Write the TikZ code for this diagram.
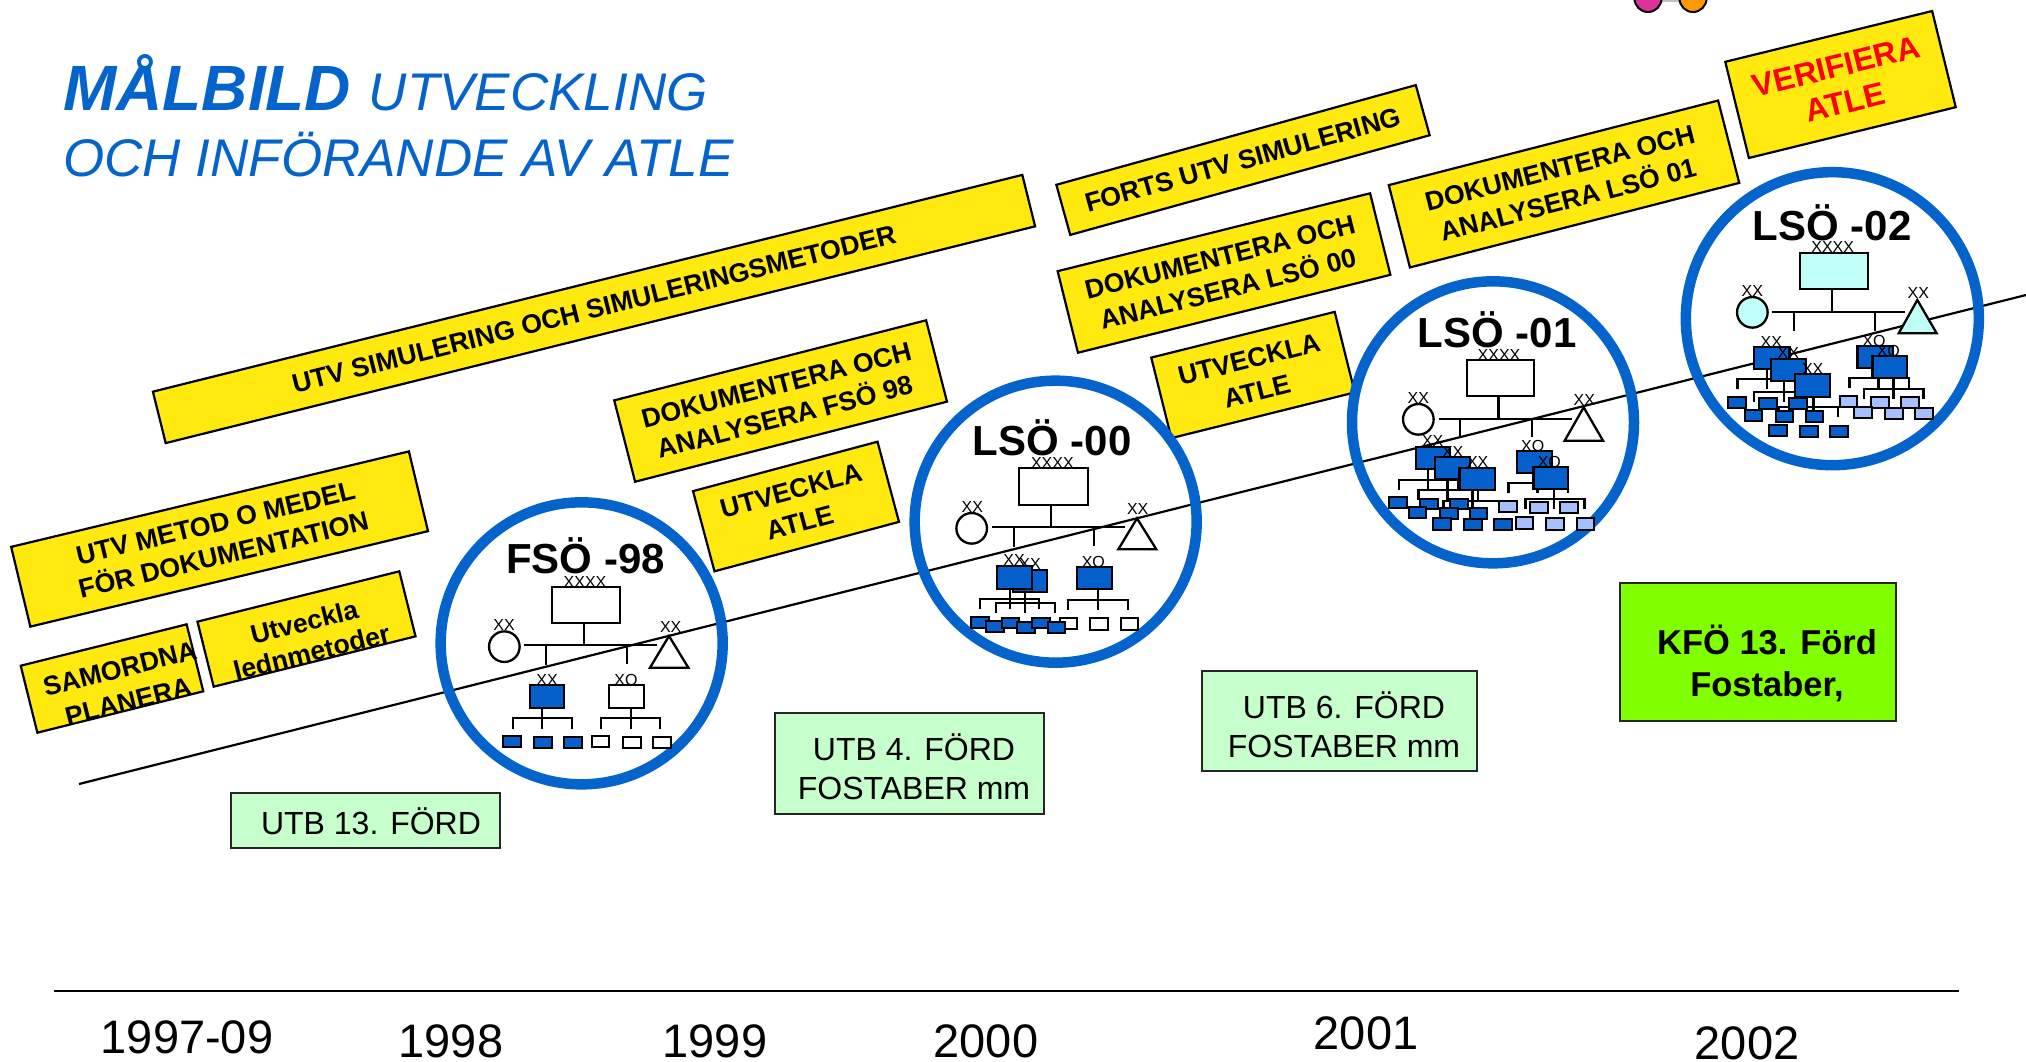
\documentclass[tikz,border=0pt]{standalone}
\usepackage{fontspec}
\setmainfont{Liberation Sans}
\definecolor{ringblue}{HTML}{0563CC}
\definecolor{unitblue}{HTML}{0560CC}
\definecolor{lightblue}{HTML}{A5BFFF}
\definecolor{ybg}{HTML}{FFE90F}
\definecolor{gbg}{HTML}{C6FFCC}
\definecolor{kbg}{HTML}{7FFF00}
\definecolor{cyanbg}{HTML}{BFFFF8}
\definecolor{pinkdot}{HTML}{DD3399}
\definecolor{orangedot}{HTML}{FF9900}
\tikzset{
  ybox/.style={draw=black,line width=2.2pt,fill=ybg,inner sep=0pt,align=center,
    font=\fontsize{26.7}{33}\selectfont\bfseries},
  ytxt/.style={inner sep=0pt,align=center,font=\fontsize{26.7}{33}\selectfont\bfseries},
  gbox/.style={draw=black!85,line width=2pt,fill=gbg,inner sep=0pt,align=center},
  gtxt/.style={inner sep=0pt,align=center,font=\fontsize{32}{38.5}\selectfont},
  year/.style={font=\fontsize{47}{50}\selectfont,inner sep=0pt},
  ring/.style={draw=ringblue,line width=10.5pt},
  ttl/.style={font=\fontsize{42}{44}\selectfont\bfseries,inner sep=0pt},
  xxlab/.style={font=\fontsize{16}{17}\selectfont,inner sep=0pt},
  uline/.style={draw=black,line width=2.3pt},
  ubase/.style={draw=black,line width=2.3pt},
  usmall/.style={draw=black,line width=2.1pt},
  zoomed/.style={x=0.33333pt,y=-0.33333pt}
}
\newcommand{\ubx}[5]{\draw[ubase,fill=#5] (#1,#2) rectangle (#3,#4);}
\newcommand{\sbx}[5]{\draw[usmall,fill=#5] (#1,#2) rectangle (#3,#4);}
\newcommand{\utree}[6]{\draw[uline] (#1,#2)--(#1,#6) (#3,#6)--(#3,#5)--(#4,#5)--(#4,#6);}
\newcommand{\ulab}[4]{\node[xxlab] (#1) at (#2,#3) {#4};}
\begin{document}
\begin{tikzpicture}[x=1pt,y=-1pt]
\useasboundingbox (0,0) rectangle (2026,1061);
% top remnant
\fill[black!25] (1660,-2) rectangle (1682,1.5);
\draw[black,line width=2pt,fill=pinkdot] (1648,-1.5) circle (13.5);
\draw[black,line width=2pt,fill=orangedot] (1693,-1.5) circle (13.5);
% heading
\node[anchor=base west,inner sep=0pt,text=ringblue,font=\fontsize{53}{53}\selectfont\itshape] (title1) at (63,110)
  {{\fontsize{64}{64}\selectfont\bfseries MÅLBILD}\hspace{3pt} UTVECKLING};
\node[anchor=base west,inner sep=0pt,text=ringblue,font=\fontsize{53}{53}\selectfont\itshape] (title2) at (63,176)
  {OCH INFÖRANDE AV ATLE};
% rising line
\coordinate (riseA) at (79,784);
\coordinate (riseB) at (2026,295);
\draw[black,line width=2.2pt] (riseA)--(riseB);
% yellow boxes
\node[ybox,rotate=14,minimum width=896,minimum height=53] (b1) at (594,309) {UTV SIMULERING OCH SIMULERINGSMETODER};
\node[ybox,rotate=13.5,minimum width=409,minimum height=82] (b2) at (219.6,539) {UTV METOD O MEDEL\\FÖR DOKUMENTATION};
\node[ybox,rotate=14,minimum width=208,minimum height=67] (b3) at (306.5,629) {};
\begin{scope}
  \clip (150,703) -- (480,621) -- (480,560) -- (150,560) -- cycle;
  \node[ytxt,rotate=14,font=\fontsize{26.7}{31}\selectfont\bfseries] (b3t) at (308,637) {Utveckla\\lednmetoder};
\end{scope}
\node[ybox,rotate=14,minimum width=171,minimum height=69] (b4) at (112,678.5) {};
\begin{scope}
  \clip (0,742) -- (260,678) -- (260,580) -- (0,580) -- cycle;
  \node[ytxt,rotate=14,font=\fontsize{26.7}{34}\selectfont\bfseries] (b4t) at (124,685) {SAMORDNA\\PLANERA};
\end{scope}
\node[ybox,rotate=14.4,minimum width=322,minimum height=84] (b5) at (780.6,401) {DOKUMENTERA OCH\\ANALYSERA FSÖ 98};
\node[ybox,rotate=15,minimum width=191,minimum height=83] (b6) at (796,506.5) {UTVECKLA\\ATLE};
\node[ybox,rotate=15.5,minimum width=373,minimum height=52] (b7) at (1243,160) {FORTS UTV SIMULERING};
\node[ybox,rotate=14,minimum width=322,minimum height=84] (b8) at (1224,273) {DOKUMENTERA OCH\\ANALYSERA LSÖ 00};
\node[ybox,rotate=14,minimum width=189,minimum height=83] (b9) at (1253,375) {UTVECKLA\\ATLE};
\node[ybox,rotate=14.4,minimum width=340,minimum height=85] (b10) at (1564,184) {DOKUMENTERA OCH\\ANALYSERA LSÖ 01};
\node[ybox,rotate=13.8,minimum width=213,minimum height=99,text=red,font=\fontsize{32}{37}\selectfont\bfseries] (b11) at (1840.5,84.5) {VERIFIERA\\ATLE};
% green boxes
\node[gbox,minimum width=269,minimum height=55] (g1) at (365.5,820.5) {};
\node[gtxt] (g1t) at (371,821) {UTB 13. FÖRD};
\node[gbox,minimum width=269,minimum height=101] (g2) at (909.5,763.5) {};
\node[gtxt] (g2t) at (914,767) {UTB 4. FÖRD\\FOSTABER mm};
\node[gbox,minimum width=275,minimum height=100] (g3) at (1339.5,721) {};
\node[gtxt] (g3t) at (1344,725) {UTB 6. FÖRD\\FOSTABER mm};
\node[gbox,fill=kbg,minimum width=276,minimum height=138] (g4) at (1758,652) {};
\node[gtxt,font=\fontsize{34.5}{42}\selectfont\bfseries] (g4t) at (1767,663) {KFÖ 13. Förd\\Fostaber,};
% axis
\coordinate (axA) at (54,991);
\coordinate (axB) at (1959,991);
\draw[black,line width=2pt] (axA)--(axB);
\node[year] (y1) at (187,1037) {1997-09};
\node[year] (y2) at (451,1041) {1998};
\node[year] (y3) at (715,1041) {1999};
\node[year] (y4) at (986,1041) {2000};
\node[year] (y5) at (1366,1033) {2001};
\node[year] (y6) at (1747,1043) {2002};
% FSÖ -98
\begin{scope}[shift={(420,480)},zoomed]
  \node[ring,circle,inner sep=0pt,minimum size=282pt] (r1) at (485,490) {};
  \node[ttl] (t1) at (497,227) {FSÖ -98};
  \draw[uline] (492,428)--(492,496) (312,496)--(712,496) (377,496)--(377,555) (620,496)--(620,552);
  \ulab{a1}{495}{305}{XXXX}
  \ubx{397}{320}{600}{428}{white}
  \draw[ubase,fill=white] (253,500) circle (15.3pt);
  \ulab{a2}{252}{435}{XX}
  \draw[ubase,fill=white,line join=miter] (747,468)--(805,563)--(690,563)--cycle;
  \ulab{a3}{752}{440}{XX}
  \utree{367}{685}{278}{456}{714}{748}
  \utree{632}{685}{544}{720}{714}{748}
  \ubx{330}{616}{432}{685}{unitblue}
  \ubx{568}{616}{672}{685}{white}
  \ulab{a4}{381}{600}{XX}
  \ulab{a5}{618}{600}{XO}
  \sbx{250}{768}{302}{802}{unitblue}\sbx{342}{770}{396}{805}{unitblue}\sbx{432}{770}{487}{805}{unitblue}
  \sbx{515}{767}{568}{802}{white}\sbx{608}{770}{662}{805}{white}\sbx{698}{770}{752}{805}{white}
\end{scope}
% LSÖ -00
\begin{scope}[shift={(900,370)},zoomed]
  \node[ring,circle,inner sep=0pt,minimum size=282pt] (r2) at (467,455) {};
  \node[ttl] (t2) at (457,202) {LSÖ -00};
  \draw[uline] (453,404)--(453,472) (275,472)--(675,472) (341,472)--(341,530) (583,472)--(583,527);
  \ulab{c1}{457}{280}{XXXX}
  \ubx{358}{295}{563}{404}{white}
  \draw[ubase,fill=white] (215,475) circle (15.3pt);
  \ulab{c2}{217}{410}{XX}
  \draw[ubase,fill=white] (711,445)--(769,538)--(655,538)--cycle;
  \ulab{c3}{713}{417}{XX}
  \utree{375}{667}{288}{466}{698}{730}
  \utree{329}{656}{241}{418}{686}{718}
  \utree{593}{658}{505}{684}{690}{720}
  \ulab{c4}{390}{582}{XX}
  \ubx{340}{600}{442}{667}{unitblue}
  \ulab{c5}{342}{571}{XX}
  \ubx{291}{587}{396}{656}{unitblue}
  \ulab{c6}{580}{575}{XO}
  \ubx{531}{590}{635}{658}{unitblue}
  \sbx{480}{743}{530}{778}{white}\sbx{571}{745}{624}{780}{white}\sbx{662}{745}{715}{780}{white}
  \sbx{213}{740}{266}{774}{unitblue}\sbx{259}{753}{312}{785}{unitblue}
  \sbx{306}{743}{358}{775}{unitblue}\sbx{352}{757}{405}{789}{unitblue}
  \sbx{397}{743}{450}{775}{unitblue}\sbx{443}{756}{496}{788}{unitblue}
\end{scope}
% LSÖ -01
\begin{scope}[shift={(1340,270)},zoomed]
  \node[ring,circle,inner sep=0pt,minimum size=282pt] (r3) at (459,457) {};
  \node[ttl] (t3) at (472,179) {LSÖ -01};
  \draw[uline] (475,378)--(475,446) (296,446)--(695,446) (360,446)--(360,500) (575,446)--(575,500);
  \ulab{d1}{477}{255}{XXXX}
  \ubx{380}{270}{582}{378}{white}
  \draw[ubase,fill=white] (235,448) circle (15.3pt);
  \ulab{d2}{235}{383}{XX}
  \draw[ubase,fill=white] (731,412)--(789,512)--(674,512)--cycle;
  \ulab{d3}{733}{390}{XX}
  \utree{264}{597}{177}{355}{630}{660}
  \utree{322}{627}{235}{413}{660}{690}
  \utree{397}{660}{310}{487}{692}{720}
  \utree{592}{610}{505}{684}{640}{670}
  \utree{642}{657}{556}{733}{688}{718}
  \ulab{d4}{278}{514}{XX}
  \ubx{228}{530}{330}{597}{unitblue}
  \ulab{d5}{338}{545}{XX}
  \ubx{285}{560}{390}{627}{unitblue}
  \ulab{d6}{413}{577}{XX}
  \ubx{358}{593}{464}{660}{unitblue}
  \ulab{d7}{578}{527}{XO}
  \ubx{531}{542}{636}{610}{unitblue}
  \ulab{d8}{628}{575}{XO}
  \ubx{580}{590}{684}{657}{unitblue}
  \sbx{478}{693}{530}{727}{lightblue}\sbx{570}{697}{623}{730}{lightblue}\sbx{660}{697}{713}{730}{lightblue}
  \sbx{527}{742}{579}{776}{lightblue}\sbx{619}{745}{672}{779}{lightblue}\sbx{710}{745}{763}{779}{lightblue}
  \sbx{148}{682}{202}{714}{unitblue}\sbx{241}{686}{295}{718}{unitblue}\sbx{331}{686}{385}{718}{unitblue}
  \sbx{207}{712}{259}{745}{unitblue}\sbx{300}{715}{353}{747}{unitblue}\sbx{390}{714}{442}{747}{unitblue}
  \sbx{279}{745}{332}{779}{unitblue}\sbx{372}{747}{425}{781}{unitblue}\sbx{463}{747}{516}{781}{unitblue}
\end{scope}
% LSÖ -02
\begin{scope}[shift={(1670,160)},zoomed]
  \node[ring,circle,inner sep=0pt,minimum size=293pt] (r4) at (487,476) {};
  \node[ttl] (t4) at (487,187) {LSÖ -02};
  \draw[uline] (486,387)--(486,456) (305,456)--(706,456) (372,456)--(372,512) (614,456)--(614,512);
  \ulab{e1}{488}{262}{XXXX}
  \ubx{390}{279}{594}{387}{cyanbg}
  \draw[ubase,fill=cyanbg] (247,457) circle (15.3pt);
  \ulab{e2}{247}{393}{XX}
  \draw[ubase,fill=cyanbg] (742,420)--(800,520)--(686,520)--cycle;
  \ulab{e3}{745}{398}{XX}
  \utree{291}{628}{202}{380}{657}{688}
  \utree{341}{664}{252}{430}{695}{727}
  \utree{430}{710}{326}{504}{740}{770}
  \utree{625}{625}{538}{716}{655}{685}
  \utree{670}{655}{582}{760}{686}{716}
  \ulab{e4}{304}{545}{XX}
  \ubx{252}{560}{358}{628}{unitblue}
  \ulab{e5}{355}{578}{XX}
  \ubx{302}{596}{408}{664}{unitblue}
  \ulab{e6}{428}{627}{XX}
  \ubx{375}{643}{480}{710}{unitblue}
  \ulab{e7}{612}{542}{XO}
  \ubx{562}{557}{668}{625}{unitblue}
  \ulab{e8}{655}{572}{XO}
  \ubx{607}{588}{710}{655}{unitblue}
  \sbx{510}{708}{562}{741}{lightblue}\sbx{604}{712}{656}{745}{lightblue}\sbx{694}{712}{746}{745}{lightblue}
  \sbx{553}{742}{605}{774}{lightblue}\sbx{646}{745}{698}{777}{lightblue}\sbx{736}{745}{788}{777}{lightblue}
  \sbx{175}{710}{228}{743}{unitblue}\sbx{268}{714}{320}{746}{unitblue}\sbx{358}{714}{412}{746}{unitblue}
  \sbx{224}{750}{276}{782}{unitblue}\sbx{317}{752}{369}{785}{unitblue}\sbx{408}{752}{460}{785}{unitblue}
  \sbx{297}{795}{350}{828}{unitblue}\sbx{390}{798}{443}{830}{unitblue}\sbx{480}{798}{533}{830}{unitblue}
\end{scope}
\end{tikzpicture}
\end{document}
